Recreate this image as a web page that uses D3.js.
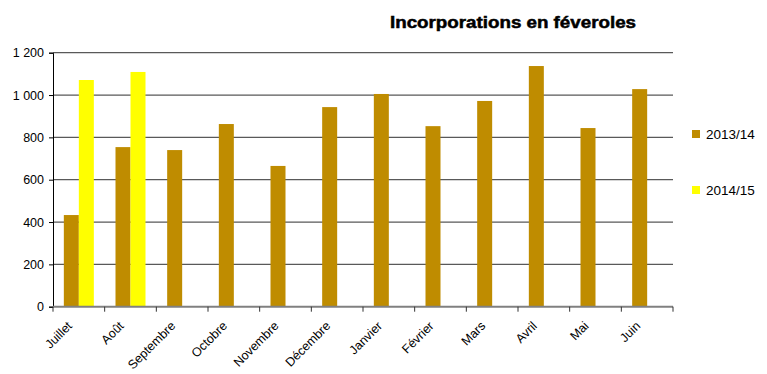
<!DOCTYPE html>
<html>
<head>
<meta charset="utf-8">
<script src="https://cdn.jsdelivr.net/npm/d3@7"></script>
<style>
  html, body { margin: 0; padding: 0; background: #fff; }
  svg { display: block; font-family: "Liberation Sans", Arial, sans-serif; }
</style>
</head>
<body>
<svg id="chart" width="767" height="374"></svg>
<script>
// Monthly incorporations of faba beans (féveroles), two marketing years
const months = ["Juillet", "Août", "Septembre", "Octobre", "Novembre", "Décembre",
                "Janvier", "Février", "Mars", "Avril", "Mai", "Juin"];
const seriesNames = ["2013/14", "2014/15"];
const values2013 = [433, 754, 740, 863, 665, 943, 1005, 853, 972, 1137, 844, 1028];
const values2014 = [1071, 1109, null, null, null, null, null, null, null, null, null, null];
const yTicks = [0, 200, 400, 600, 800, 1000, 1200];
const colors = ["#BF8C00", "#FFFF00"];

const svg = d3.select("#chart");
const margin = { left: 53, right: 94, top: 52.7, bottom: 67.3 };
const W = 767, H = 374;
const plotW = W - margin.left - margin.right;
const plotH = H - margin.top - margin.bottom;

const g = svg.append("g").attr("transform", `translate(${margin.left},${margin.top})`);

const x = d3.scaleBand().domain(months).range([0, plotW]).paddingInner(0).paddingOuter(0);
const xSub = d3.scaleBand().domain(seriesNames).range([0, 30]);
const y = d3.scaleLinear().domain([0, 1200]).range([plotH, 0]);

// horizontal gridlines
g.append("g").selectAll("line")
  .data(yTicks.filter(t => t > 0))
  .join("line")
  .attr("x1", 0).attr("x2", plotW)
  .attr("y1", d => y(d)).attr("y2", d => y(d))
  .attr("stroke", "#595959").attr("stroke-width", 1.3);

// bars
const rows = months.map((m, i) => ({ m, vals: [values2013[i], values2014[i]] }));
const groupOffset = (x.bandwidth() - 30) / 2;
g.append("g").selectAll("g")
  .data(rows)
  .join("g")
  .attr("transform", d => `translate(${x(d.m) + groupOffset},0)`)
  .selectAll("rect")
  .data(d => d.vals.map((v, k) => ({ k, v })).filter(e => e.v != null))
  .join("rect")
  .attr("x", e => xSub(seriesNames[e.k]))
  .attr("width", xSub.bandwidth())
  .attr("y", e => y(e.v))
  .attr("height", e => plotH - y(e.v))
  .attr("fill", e => colors[e.k]);

// y axis
const yAxis = g.append("g")
  .call(d3.axisLeft(y).tickValues(yTicks).tickSize(4).tickPadding(5)
        .tickFormat(d => d3.format(",")(d).replace(",", " ")));
yAxis.select(".domain").attr("stroke", "#000").attr("stroke-width", 1);
yAxis.selectAll(".tick line").attr("stroke", "#000");
yAxis.selectAll("text").attr("font-size", 12.5).attr("fill", "#000")
  .attr("font-family", "Liberation Sans, Arial, sans-serif");

// x axis: ticks on the category boundaries
const bounds = months.map(m => x(m)).concat([plotW]);
const xAxisG = g.append("g").attr("transform", `translate(0,${plotH})`);
xAxisG.append("line").attr("x1", 0).attr("x2", plotW).attr("y1", 0).attr("y2", 0)
  .attr("stroke", "#808080").attr("stroke-width", 2);
xAxisG.selectAll("line.tk").data(bounds).join("line").attr("class", "tk")
  .attr("x1", d => d).attr("x2", d => d).attr("y1", 0).attr("y2", 5)
  .attr("stroke", "#333").attr("stroke-width", 1);
xAxisG.selectAll("text").data(months).join("text")
  .attr("transform", m => `translate(${x(m) + x.bandwidth() / 2 - 6},${20}) rotate(-45)`)
  .attr("text-anchor", "end")
  .attr("font-size", 12.5)
  .attr("fill", "#000")
  .text(m => m);

// title
svg.append("text")
  .attr("x", 513).attr("y", 28)
  .attr("text-anchor", "middle")
  .attr("font-size", 16).attr("font-weight", "bold")
  .attr("textLength", 246).attr("lengthAdjust", "spacingAndGlyphs")
  .attr("stroke", "#000").attr("stroke-width", 0.5)
  .text("Incorporations en féveroles");

// legend
const legend = svg.append("g").attr("transform", "translate(692,130)");
const li = legend.selectAll("g").data(seriesNames).join("g")
  .attr("transform", (d, i) => `translate(0,${i * 56})`);
li.append("rect").attr("width", 8).attr("height", 8).attr("fill", (d, i) => colors[i]);
li.append("text").attr("x", 14).attr("y", 9).attr("font-size", 13.5).attr("fill", "#000").text(d => d);
</script>
</body>
</html>
